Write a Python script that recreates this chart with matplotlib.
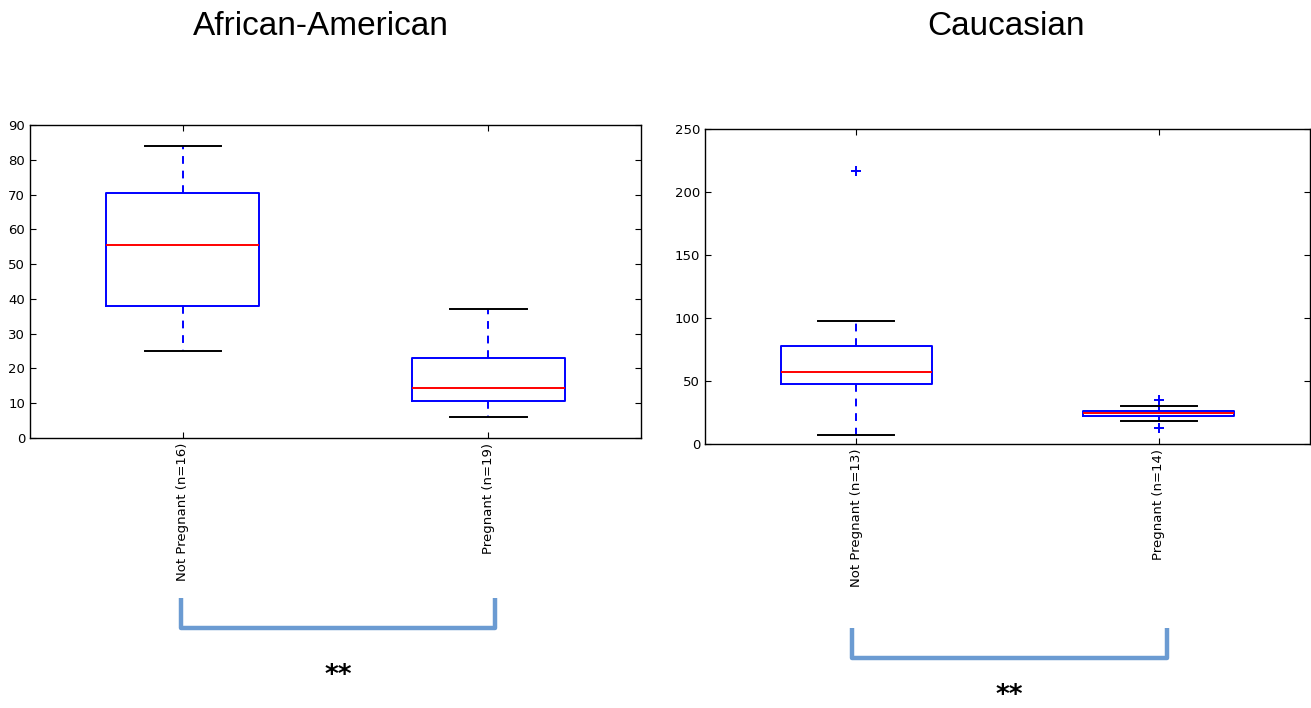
import matplotlib
matplotlib.use("Agg")
import matplotlib.pyplot as plt
from matplotlib.lines import Line2D

# values
groups = ["African-American", "Caucasian"]
labels_aa = ["Not Pregnant (n=16)", "Pregnant (n=19)"]
labels_ca = ["Not Pregnant (n=13)", "Pregnant (n=14)"]

# whisker low, q1, median, q3, whisker high
aa_whislo = [25, 6]
aa_q1 = [38, 10.5]
aa_med = [55.5, 14.5]
aa_q3 = [70.5, 23]
aa_whishi = [84, 37]
aa_fliers = [[], []]

ca_whislo = [7.5, 18]
ca_q1 = [47.5, 22]
ca_med = [57, 24.5]
ca_q3 = [78, 26.5]
ca_whishi = [97.5, 30]
ca_fliers = [[217], [35, 13]]

aa_yticks = list(range(0, 91, 10))
ca_yticks = list(range(0, 251, 50))

sig_text = "**"
bracket_color = "#6b9bd2"


def make_stats(lo, q1, med, q3, hi, fl, labels):
    out = []
    for i in range(len(lo)):
        out.append({"whislo": lo[i], "q1": q1[i], "med": med[i], "q3": q3[i],
                    "whishi": hi[i], "fliers": fl[i], "label": labels[i]})
    return out


def draw_box(ax, stats, ymax, yticks):
    ax.bxp(stats, widths=0.5, showfliers=True,
           boxprops=dict(color="blue", linewidth=1.4),
           medianprops=dict(color="red", linewidth=1.4),
           whiskerprops=dict(color="blue", linestyle="--", linewidth=1.4, dashes=(4, 3.5)),
           capprops=dict(color="black", linewidth=1.4),
           flierprops=dict(marker="+", markeredgecolor="blue", markersize=7,
                           markeredgewidth=1.4, linestyle="none"))
    ax.set_xlim(0.5, 2.5)
    ax.set_ylim(0, ymax)
    ax.set_yticks(yticks)
    ax.tick_params(axis="both", direction="in", top=True, right=True, labelsize=9.5, length=4)
    ax.tick_params(axis="x", labelrotation=90)
    for lab in ax.get_xticklabels():
        lab.set_verticalalignment("top")
    for s in ax.spines.values():
        s.set_linewidth(1.0)


fig = plt.figure(figsize=(13.11, 7.08), dpi=100)

ax1 = fig.add_axes([0.0229, 0.3814, 0.4661, 0.4420])
draw_box(ax1, make_stats(aa_whislo, aa_q1, aa_med, aa_q3, aa_whishi, aa_fliers, labels_aa), 90, aa_yticks)

ax2 = fig.add_axes([0.5378, 0.3729, 0.4614, 0.4449])
draw_box(ax2, make_stats(ca_whislo, ca_q1, ca_med, ca_q3, ca_whishi, ca_fliers, labels_ca), 250, ca_yticks)

# titles
fig.text(0.245, 0.963, groups[0], ha="center", va="center", fontsize=24, family="Liberation Sans")
fig.text(0.767, 0.963, groups[1], ha="center", va="center", fontsize=24, family="Liberation Sans")


# significance brackets (figure pixel coords)
def bracket(x0, x1, ytop, ybot, star_y):
    W, H = 1311.0, 708.0
    xs = [x0 / W, x0 / W, x1 / W, x1 / W]
    ys = [1 - ytop / H, 1 - ybot / H, 1 - ybot / H, 1 - ytop / H]
    fig.add_artist(Line2D(xs, ys, transform=fig.transFigure, color=bracket_color,
                          linewidth=3.2, solid_joinstyle="round", solid_capstyle="butt"))
    fig.text((x0 + x1) / 2 / W, 1 - star_y / H, sig_text, ha="center", va="center",
             fontsize=19, fontweight="bold", family="DejaVu Sans")


bracket(181, 495, 598, 628, 676)
bracket(852, 1167, 628, 658, 696)

fig.savefig("out.png", dpi=100)
